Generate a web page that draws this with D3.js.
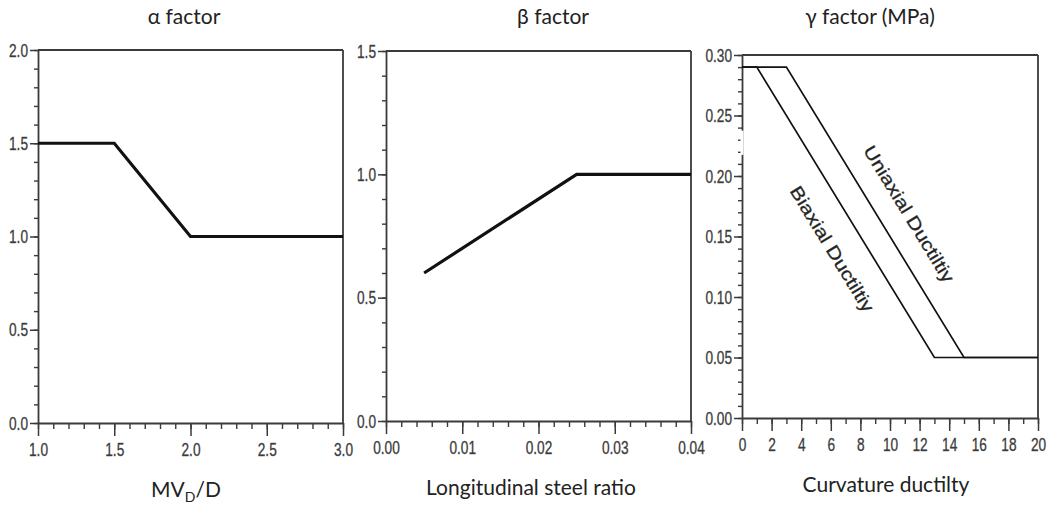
<!DOCTYPE html>
<html><head><meta charset="utf-8">
<script src="https://cdn.jsdelivr.net/npm/d3@7"></script>
<style>
body{margin:0;background:#fff;}
svg{display:block;}
</style></head>
<body><svg id="c" width="1047" height="506"></svg>
<script>
// ---- data ----
const alphaX = [1.0, 1.5, 2.0, 3.0];
const alphaY = [1.5, 1.5, 1.0, 1.0];
const betaX = [0.005, 0.025, 0.04];
const betaY = [0.6, 1.0, 1.0];
const biaxialX = [0, 1, 13, 20];
const biaxialY = [0.29, 0.29, 0.05, 0.05];
const uniaxialX = [0, 3, 15, 20];
const uniaxialY = [0.29, 0.29, 0.05, 0.05];

const alphaXTicks = [1.0, 1.5, 2.0, 2.5, 3.0];
const alphaYTicks = [0.0, 0.5, 1.0, 1.5, 2.0];
const betaXTicks = [0.00, 0.01, 0.02, 0.03, 0.04];
const betaYTicks = [0.0, 0.5, 1.0, 1.5];
const gammaXTicks = [0, 2, 4, 6, 8, 10, 12, 14, 16, 18, 20];
const gammaYTicks = [0.00, 0.05, 0.10, 0.15, 0.20, 0.25, 0.30];

const titles = ["α factor", "β factor", "γ factor (MPa)"];

const svg = d3.select("#c");
const axisColor = "#3a3a3a";
const tickFont = "'Liberation Sans', Arial, sans-serif";
const titleFont = "Lato, 'Open Sans', sans-serif";
const SX = 0.72; // condensed tick font

function styleTickText(sel, axis){
  sel.selectAll(".tick text")
    .attr("font-family", tickFont).attr("font-size", 19).attr("fill", "#333")
    .attr("stroke", "#555").attr("stroke-width", 0.35);
  if(axis === "x"){
    sel.selectAll(".tick text").attr("transform", `scale(${SX},1)`);
  } else {
    sel.selectAll(".tick text").each(function(){
      const t = d3.select(this);
      const x = +t.attr("x");
      t.attr("x", x / SX).attr("transform", `scale(${SX},1)`);
    });
  }
}

function panel(cfg){
  const x = d3.scaleLinear().domain(cfg.xd).range([cfg.x0, cfg.x1]);
  const y = d3.scaleLinear().domain(cfg.yd).range([cfg.y1, cfg.y0]);
  const g = svg.append("g");
  const gx = g.append("g").attr("transform",`translate(0,${cfg.y1})`)
    .call(d3.axisBottom(x).tickValues(d3.range(cfg.xd[0], cfg.xd[1]+cfg.xm/2, cfg.xm)).tickSizeInner(6).tickSizeOuter(0).tickFormat(""));
  gx.selectAll("line").attr("stroke",axisColor).attr("stroke-width",1.4);
  gx.select("path").attr("stroke",axisColor).attr("stroke-width",1.8).attr("fill","none");
  const gxM = g.append("g").attr("transform",`translate(0,${cfg.y1})`)
    .call(d3.axisBottom(x).tickValues(cfg.xt).tickSize(13).tickPadding(7).tickFormat(cfg.xf));
  gxM.selectAll("line").attr("stroke",axisColor).attr("stroke-width",1.5);
  gxM.select("path").remove();
  styleTickText(gxM, "x");

  const gy = g.append("g").attr("transform",`translate(${cfg.x0},0)`)
    .call(d3.axisLeft(y).tickValues(d3.range(cfg.yd[0], cfg.yd[1]+cfg.ym/2, cfg.ym)).tickSizeInner(4).tickSizeOuter(0).tickFormat(""));
  gy.selectAll("line").attr("stroke",axisColor).attr("stroke-width",1.4);
  gy.select("path").attr("stroke",axisColor).attr("stroke-width",1.8).attr("fill","none");
  const gyM = g.append("g").attr("transform",`translate(${cfg.x0},0)`)
    .call(d3.axisLeft(y).tickValues(cfg.yt).tickSize(8).tickPadding(2).tickFormat(cfg.yf));
  gyM.selectAll("line").attr("stroke",axisColor).attr("stroke-width",1.5);
  gyM.select("path").remove();
  styleTickText(gyM, "y");

  g.append("line").attr("x1",cfg.x0).attr("x2",cfg.x1).attr("y1",cfg.y0).attr("y2",cfg.y0)
    .attr("stroke",axisColor).attr("stroke-width",1.8);
  g.append("line").attr("x1",cfg.x1).attr("x2",cfg.x1).attr("y1",cfg.y0).attr("y2",cfg.y1)
    .attr("stroke",axisColor).attr("stroke-width",1.8);

  g.append("text").attr("x",cfg.tx).attr("y",24).attr("text-anchor","middle")
    .attr("font-family",titleFont).attr("font-size",21).attr("fill","#222")
    .text(cfg.title);
  return {x,y,g};
}

const p1 = panel({xd:[1,3], yd:[0,2], x0:38, x1:343, y0:50, y1:423, xm:0.1, ym:0.1,
  xt:alphaXTicks, yt:alphaYTicks, xf:d3.format(".1f"), yf:d3.format(".1f"), tx:184, title:titles[0]});
const p2 = panel({xd:[0,0.04], yd:[0,1.5], x0:386, x1:691, y0:51, y1:421, xm:0.002, ym:0.1,
  xt:betaXTicks, yt:betaYTicks, xf:d3.format(".2f"), yf:d3.format(".1f"), tx:553, title:titles[1]});
const p3 = panel({xd:[0,20], yd:[0,0.30], x0:742, x1:1038, y0:55, y1:418, xm:1, ym:0.01,
  xt:gammaXTicks, yt:gammaYTicks, xf:d3.format("d"), yf:d3.format(".2f"), tx:870, title:titles[2]});

p3.g.append("rect").attr("x",p3.x(0)-1.5).attr("y",p3.y(0.2375)).attr("width",3)
  .attr("height",p3.y(0.2175)-p3.y(0.2375)).attr("fill","#fff");

function drawLine(p, xs, ys, w){
  const pts = xs.map((v,i)=>[v, ys[i]]);
  p.g.append("path").datum(pts)
    .attr("d", d3.line().x(d=>p.x(d[0])).y(d=>p.y(d[1])))
    .attr("fill","none").attr("stroke","#111").attr("stroke-width",w)
    .attr("stroke-linejoin","miter");
}
drawLine(p1, alphaX, alphaY, 3.2);
drawLine(p2, betaX, betaY, 3.2);
drawLine(p3, biaxialX, biaxialY, 1.7);
drawLine(p3, uniaxialX, uniaxialY, 1.7);

const ang = Math.atan2(p3.y(0.05)-p3.y(0.29), p3.x(15)-p3.x(3))*180/Math.PI;
function rotLabel(txt, xv, yv, len){
  const cx = p3.x(xv), cy = p3.y(yv);
  p3.g.append("text").attr("transform",`translate(${cx},${cy}) rotate(${ang})`)
    .attr("text-anchor","middle").attr("dominant-baseline","middle")
    .attr("font-family","'Liberation Sans', Arial, sans-serif").attr("font-size",18)
    .attr("textLength",len).attr("lengthAdjust","spacingAndGlyphs")
    .attr("fill","#222").attr("stroke","#333").attr("stroke-width",0.3).text(txt);
}
rotLabel("Uniaxial Ductiltiy", 11.2, 0.168, 157);
rotLabel("Biaxial Ductiltiy", 6.0, 0.139, 144);

const t1 = svg.append("text").attr("x",186).attr("y",497).attr("text-anchor","middle")
  .attr("font-family",titleFont).attr("font-size",21).attr("fill","#222");
t1.append("tspan").text("MV");
t1.append("tspan").attr("font-size",14).attr("dy",5).text("D");
t1.append("tspan").attr("dy",-5).text("/D");
svg.append("text").attr("x",531).attr("y",495).attr("text-anchor","middle")
  .attr("font-family",titleFont).attr("font-size",21).attr("fill","#222").text("Longitudinal steel ratio");
svg.append("text").attr("x",886).attr("y",492).attr("text-anchor","middle")
  .attr("font-family",titleFont).attr("font-size",21).attr("fill","#222").text("Curvature ductilty");
</script></body></html>
